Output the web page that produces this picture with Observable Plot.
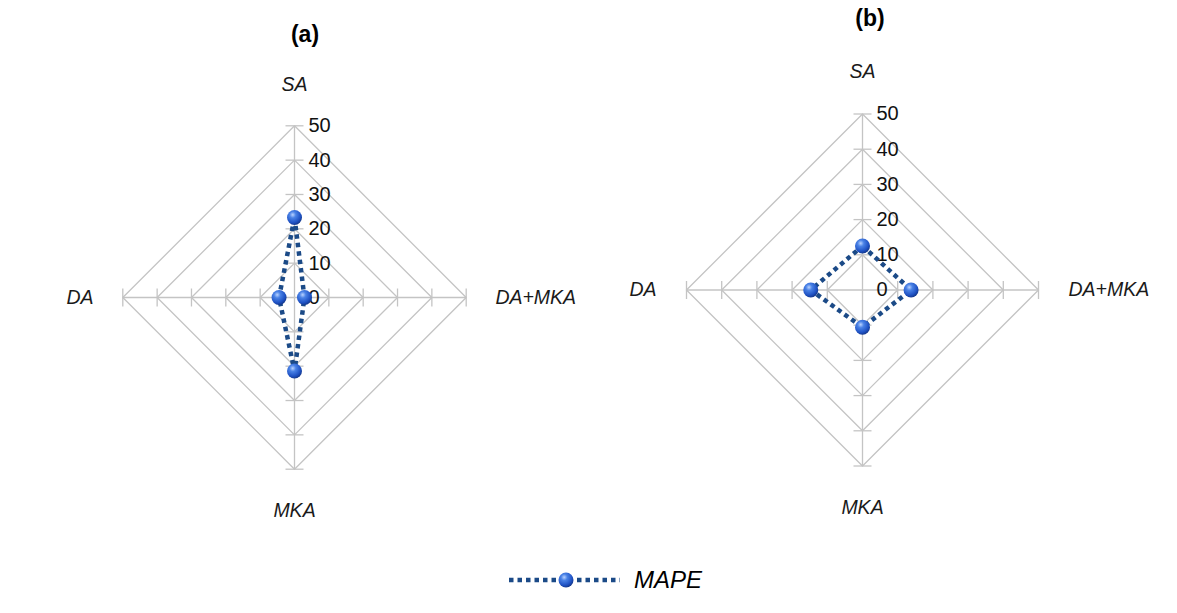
<!DOCTYPE html>
<html>
<head>
<meta charset="utf-8">
<script src="https://cdn.jsdelivr.net/npm/d3@7"></script>
<script src="https://cdn.jsdelivr.net/npm/@observablehq/plot@0.6"></script>
<style>
  html, body { margin: 0; padding: 0; background: #fff; }
  #wrap { position: relative; width: 1177px; height: 613px; font-family: "Liberation Sans", Arial, sans-serif; overflow: hidden; }
  .panel { position: absolute; top: 0; }
  .title { position: absolute; font-weight: bold; font-size: 23px; transform: translate(-50%, -50%); color: #000; }
  #legend { position: absolute; left: 506px; top: 565px; display: flex; align-items: center; }
  #legend span { font-style: italic; font-size: 24px; margin-left: 12px; color: #000; }
</style>
</head>
<body>
<div id="wrap">
  <div class="title" style="left:305px; top:34px;">(a)</div>
  <div class="title" style="left:870px; top:18px;">(b)</div>
  <div class="panel" id="pa" style="left:0px;"></div>
  <div class="panel" id="pb" style="left:588px;"></div>
  <div id="legend"></div>
</div>
<script>
const categories = ["SA", "DA+MKA", "MKA", "DA"];
const mapeA = [23.3, 2.9, 21.4, 4.5];
const mapeB = [12.5, 13.8, 10.6, 14.7];
const ringValues = [10, 20, 30, 40, 50];
const tickValues = [0, 10, 20, 30, 40, 50];
const tickLabels = ["0", "10", "20", "30", "40", "50"];
const seriesName = "MAPE";

const gridColor = "#c4c4c4";
const lineColor = "#1b4a87";

function gradientDefs(id) {
  return `<radialGradient id="${id}" cx="38%" cy="32%" r="70%">
    <stop offset="0%" stop-color="#b9d2ff"/>
    <stop offset="30%" stop-color="#4a82e6"/>
    <stop offset="75%" stop-color="#1f52c4"/>
    <stop offset="100%" stop-color="#14378a"/>
  </radialGradient>`;
}

function radar({values, width, height, cx, cy, radius, gradId}) {
  const k = radius / 50;
  const ang = i => i * Math.PI / 2;
  const px = (i, v) => v * Math.sin(ang(i));
  const py = (i, v) => v * Math.cos(ang(i));
  const rings = ringValues.flatMap(v =>
    [0, 1, 2, 3, 4].map(j => ({ring: v, x: px(j % 4, v), y: py(j % 4, v)})));
  const spokes = categories.map((c, i) => ({x1: 0, y1: 0, x2: px(i, 50), y2: py(i, 50)}));
  const t = 9 / k;
  const ticks = categories.flatMap((c, i) => ringValues.map(v => {
    const ox = Math.cos(ang(i)) * t, oy = -Math.sin(ang(i)) * t;
    return {x1: px(i, v) - ox, y1: py(i, v) - oy, x2: px(i, v) + ox, y2: py(i, v) + oy};
  }));
  const pts = categories.map((c, i) => ({cat: c, v: values[i], x: px(i, values[i]), y: py(i, values[i])}));
  const labelV = 62, labelH = 58.5;
  const labels = categories.map((c, i) => {
    const vertical = i % 2 === 0;
    const r = vertical ? labelV : labelH;
    return {text: c, x: px(i, r), y: py(i, r), anchor: vertical ? "middle" : (i === 1 ? "start" : "end")};
  });
  const labelMark = anchor => Plot.text(labels.filter(d => d.anchor === anchor),
    {x: "x", y: "y", text: "text", textAnchor: anchor, fontSize: 19.5, fontStyle: "italic", fill: "#1a1a1a"});
  const svg = Plot.plot({
    width, height,
    margin: 0,
    style: {fontFamily: "'Liberation Sans', Arial, sans-serif", background: "transparent"},
    x: {domain: [-cx / k, (width - cx) / k], range: [0, width], axis: null},
    y: {domain: [-(height - cy) / k, cy / k], range: [height, 0], axis: null},
    marks: [
      Plot.line(rings, {x: "x", y: "y", z: "ring", stroke: gridColor, strokeWidth: 1.3}),
      Plot.link(spokes, {x1: "x1", y1: "y1", x2: "x2", y2: "y2", stroke: gridColor, strokeWidth: 1.3}),
      Plot.link(ticks, {x1: "x1", y1: "y1", x2: "x2", y2: "y2", stroke: gridColor, strokeWidth: 1.3}),
      Plot.text(tickValues, {x: 14 / k, y: d => d, text: (d, i) => tickLabels[i], textAnchor: "start", fontSize: 20, fill: "#111"}),
      labelMark("middle"), labelMark("start"), labelMark("end"),
      Plot.line(pts, {x: "x", y: "y", curve: "linear-closed", stroke: lineColor, strokeWidth: 4.5,
        strokeDasharray: "4.5,4", strokeLinecap: "butt", strokeLinejoin: "miter"}),
      Plot.dot(pts, {x: "x", y: "y", r: 7.5, fill: `url(#${gradId})`, stroke: "none"})
    ]
  });
  d3.select(svg).insert("defs", ":first-child").html(gradientDefs(gradId));
  return svg;
}

document.getElementById("pa").appendChild(radar({values: mapeA, width: 588, height: 560, cx: 294, cy: 297, radius: 171.7, gradId: "gA"}));
document.getElementById("pb").appendChild(radar({values: mapeB, width: 589, height: 560, cx: 274, cy: 289.5, radius: 176, gradId: "gB"}));

// legend
const leg = d3.select("#legend");
const ls = leg.append("svg").attr("width", 116).attr("height", 30);
ls.append("defs").html(gradientDefs("gL"));
ls.append("line").attr("x1", 3).attr("x2", 114).attr("y1", 15).attr("y2", 15)
  .attr("stroke", lineColor).attr("stroke-width", 4.5).attr("stroke-dasharray", "4.5,4");
ls.append("circle").attr("cx", 60).attr("cy", 15).attr("r", 7.5).attr("fill", "url(#gL)");
leg.append("span").text(seriesName);
</script>
</body>
</html>
